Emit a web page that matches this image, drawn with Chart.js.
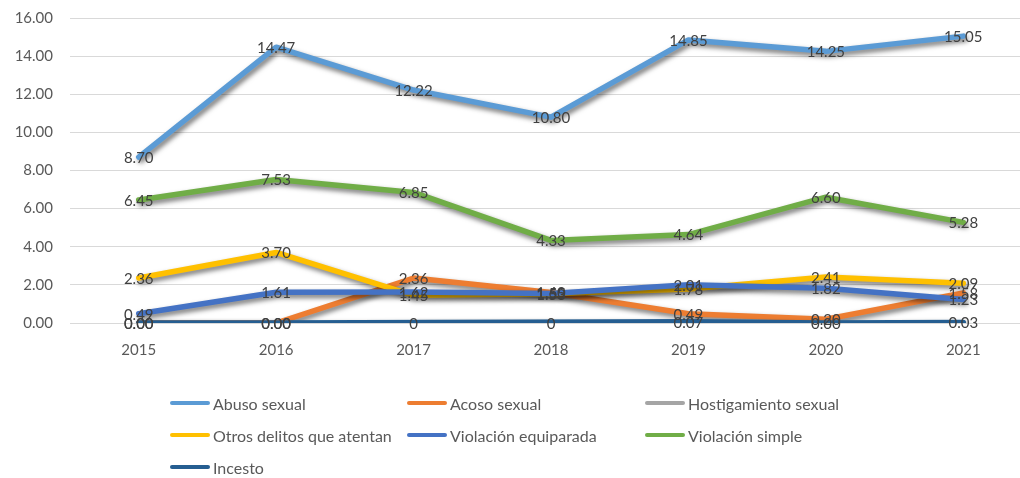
<!DOCTYPE html>
<html>
<head>
<meta charset="utf-8">
<script src="https://cdn.jsdelivr.net/npm/chart.js@4.4.1/dist/chart.umd.min.js"></script>
<style>
  html, body { margin: 0; padding: 0; background: #fff; overflow: hidden; }
  #wrap { position: relative; width: 1020px; height: 478px; overflow: hidden; }
  #chart { position: absolute; left: 0; top: 0; }
  #legend { position: absolute; left: 0; top: 0; width: 1020px; height: 478px; font-family: Lato, sans-serif; font-size: 16px; color: #595959; }
  .item { position: absolute; display: flex; align-items: center; height: 20px; white-space: nowrap; }
  .item .sw { width: 40px; height: 4px; border-radius: 2px; margin-right: 3px; }
</style>
</head>
<body>
<div id="wrap">
  <canvas id="chart" width="1040" height="370"></canvas>
  <div id="legend"></div>
</div>
<script>
const years = ["2015", "2016", "2017", "2018", "2019", "2020", "2021"];
const yTicks = [0, 2, 4, 6, 8, 10, 12, 14, 16];

const seriesNames = ["Abuso sexual", "Acoso sexual", "Hostigamiento sexual", "Otros delitos que atentan", "Violación equiparada", "Violación simple", "Incesto"];
const seriesColors = ["#5B9BD5", "#ED7D31", "#A5A5A5", "#FFC000", "#4472C4", "#70AD47", "#255E91"];
const seriesDecimals = [2, 2, 0, 2, 2, 2, 2];

const abusoSexual = [8.70, 14.47, 12.22, 10.80, 14.85, 14.25, 15.05];
const acosoSexual = [0.00, 0.00, 2.36, 1.60, 0.49, 0.20, 1.58];
const hostigamiento = [null, null, 0, 0, null, null, null];
const otrosDelitos = [2.36, 3.70, 1.45, 1.53, 1.78, 2.41, 2.09];
const violEquiparada = [0.49, 1.61, 1.62, 1.55, 2.01, 1.82, 1.23];
const violSimple = [6.45, 7.53, 6.85, 4.33, 4.64, 6.60, 5.28];
const incesto = [0.00, 0.00, null, null, 0.07, 0.00, 0.03];

const seriesData = [abusoSexual, acosoSexual, hostigamiento, otrosDelitos, violEquiparada, violSimple, incesto];

// excel-like drop shadow under each line
const shadowPlugin = {
  id: "shadow",
  beforeDatasetDraw(chart) {
    const ctx = chart.ctx;
    ctx.save();
    ctx.shadowColor = "rgba(0,0,0,0.55)";
    ctx.shadowBlur = 5;
    ctx.shadowOffsetX = 2;
    ctx.shadowOffsetY = 3;
  },
  afterDatasetDraw(chart) {
    chart.ctx.restore();
  },
};

// value labels centred on the points, drawn over all lines
const labelPlugin = {
  id: "valueLabels",
  afterDatasetsDraw(chart) {
    const ctx = chart.ctx;
    ctx.save();
    ctx.font = "15px Lato, sans-serif";
    ctx.fillStyle = "#404040";
    ctx.textAlign = "center";
    ctx.textBaseline = "middle";
    chart.data.datasets.forEach((ds, i) => {
      const meta = chart.getDatasetMeta(i);
      meta.data.forEach((pt, j) => {
        const v = ds.data[j];
        if (v === null || v === undefined) return;
        ctx.fillText(v.toFixed(seriesDecimals[i]), pt.x, pt.y + 1);
      });
    });
    ctx.restore();
  },
};

const datasets = seriesNames.map((name, i) => ({
  label: name,
  data: seriesData[i],
  borderColor: seriesColors[i],
  backgroundColor: seriesColors[i],
  borderWidth: 5.5,
  borderCapStyle: "round",
  borderJoinStyle: "round",
  pointRadius: 0,
  tension: 0,
  spanGaps: true,
  order: seriesNames.length - i,
}));

const noPad = (s) => { s.paddingTop = 0; s.paddingBottom = 0; s.paddingLeft = 0; s.paddingRight = 0; };

new Chart(document.getElementById("chart"), {
  type: "line",
  data: { labels: years, datasets },
  options: {
    responsive: false,
    animation: false,
    layout: { padding: { top: 18, right: 8, left: 0, bottom: 0 } },
    plugins: { legend: { display: false }, tooltip: { enabled: false } },
    scales: {
      x: {
        offset: true,
        grid: { display: false },
        border: { display: false },
        ticks: { color: "#595959", font: { family: "Lato", size: 15 }, padding: 10 },
        afterFit: (s) => { s.height = 47; noPad(s); },
      },
      y: {
        min: 0,
        max: 16,
        afterBuildTicks: (s) => { s.ticks = yTicks.map(v => ({ value: v })); },
        grid: { color: "#D9D9D9", lineWidth: 1, drawTicks: false },
        border: { display: false },
        ticks: { color: "#595959", font: { family: "Lato", size: 15 }, padding: 17, callback: v => Number(v).toFixed(2) },
        afterFit: (s) => { s.width = 70; noPad(s); },
      },
    },
  },
  plugins: [shadowPlugin, labelPlugin],
});

// legend, three columns like the original
const legend = document.getElementById("legend");
const colX = [170, 407, 645];
const rowY = [393, 425, 457];
seriesNames.forEach((name, i) => {
  const el = document.createElement("div");
  el.className = "item";
  el.style.left = colX[i % 3] + "px";
  el.style.top = rowY[Math.floor(i / 3)] + "px";
  el.innerHTML = `<span class="sw" style="background:${seriesColors[i]}"></span><span>${name}</span>`;
  legend.appendChild(el);
});
</script>
</body>
</html>
